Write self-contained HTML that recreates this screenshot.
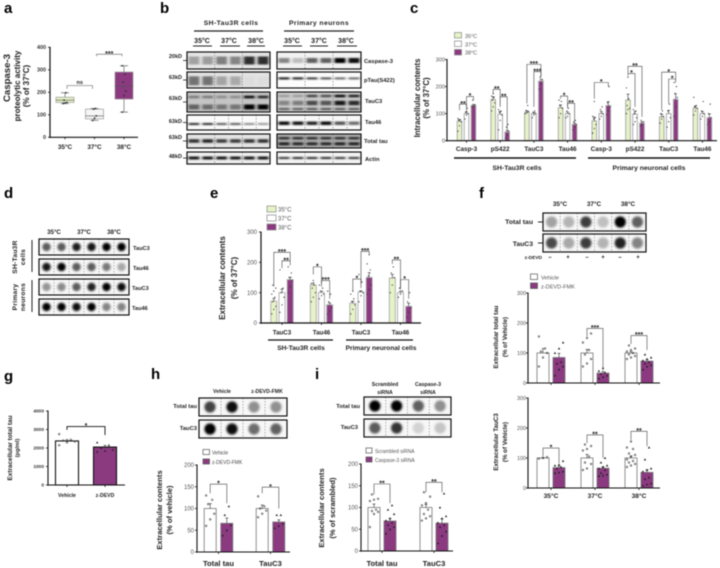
<!DOCTYPE html>
<html lang="en">
<head>
<meta charset="utf-8">
<title>Caspase-3 and tau multi-panel figure</title>
<style>
html,body{margin:0;padding:0;background:#fff;width:720px;height:568px;overflow:hidden}
svg{display:block;filter:blur(.4px)}
text{font-family:"Liberation Sans",sans-serif;fill:#222}
.panel{font-size:15px;font-weight:bold;fill:#000}
.b{font-weight:bold}
.m{text-anchor:middle}
.e{text-anchor:end}
</style>
</head>
<body>
<svg id="figure" xmlns="http://www.w3.org/2000/svg" width="720" height="568" viewBox="0 0 720 568">
<defs>
<filter id="bandBlur" x="-40%" y="-300%" width="180%" height="700%"><feGaussianBlur stdDeviation="1.3 0.8"/></filter>
<filter id="spotBlur" x="-50%" y="-50%" width="200%" height="200%"><feGaussianBlur stdDeviation="1.1"/></filter>
</defs>
<rect width="720" height="568" fill="#fff"/>

<!-- panel letters -->
<text class="panel" x="4" y="13">a</text>
<text class="panel" x="160" y="13">b</text>
<text class="panel" x="410" y="13">c</text>
<text class="panel" x="4" y="198">d</text>
<text class="panel" x="210" y="198">e</text>
<text class="panel" x="479" y="198">f</text>
<text class="panel" x="4" y="381">g</text>
<text class="panel" x="151" y="379">h</text>
<text class="panel" x="315" y="379">i</text>

<!-- panel a titles -->
<text class="b m" font-size="9.6" transform="translate(10,78) rotate(-90)">Caspase-3</text>
<text class="b m" font-size="8" transform="translate(20,86) rotate(-90)">proteolytic activity</text>
<text class="b m" font-size="8" transform="translate(29,86) rotate(-90)">(% of 37°C)</text>

<!-- panel b labels -->
<text class="b m" font-size="6.8" letter-spacing=".4" x="231" y="25">SH-Tau3R cells</text>
<text class="b m" font-size="6.8" letter-spacing=".4" x="319" y="25">Primary neurons</text>
<line x1="194" x2="263" y1="31" y2="31" stroke="#222" stroke-width="1.2"/>
<line x1="284" x2="354" y1="31" y2="31" stroke="#222" stroke-width="1.2"/>
<g font-size="7" font-weight="bold" text-anchor="middle">
<text x="202" y="43">35°C</text>
<text x="229" y="43">37°C</text>
<text x="256" y="43">38°C</text>
<text x="292" y="43">35°C</text>
<text x="319" y="43">37°C</text>
<text x="346" y="43">38°C</text>
</g>
<g stroke="#222" stroke-width="1">
<line x1="193" x2="212" y1="46" y2="46"/>
<line x1="220" x2="240" y1="46" y2="46"/>
<line x1="247" x2="265" y1="46" y2="46"/>
<line x1="283" x2="302" y1="46" y2="46"/>
<line x1="310" x2="328" y1="46" y2="46"/>
<line x1="337" x2="357" y1="46" y2="46"/>
</g>
<g font-size="5.5" font-weight="bold" text-anchor="end">
<text x="182" y="58">20kD</text>
<text x="182" y="79">63kD</text>
<text x="182" y="100">63kD</text>
<text x="182" y="123">63kD</text>
<text x="182" y="139">63kD</text>
<text x="182" y="158">48kD</text>
</g>
<g font-size="5.8" font-weight="bold">
<text x="364" y="63">Caspase-3</text>
<text x="364" y="82">pTau(S422)</text>
<text x="365" y="103">TauC3</text>
<text x="365" y="124">Tau46</text>
<text x="364" y="143">Total tau</text>
<text x="365" y="161">Actin</text>
</g>

<!-- panel c labels -->
<g>
<rect x="454.5" y="32.5" width="7" height="5.5" fill="#e6f3c6" stroke="#888" stroke-width=".7"/>
<rect x="454.5" y="41" width="7" height="5.5" fill="#fff" stroke="#888" stroke-width=".7"/>
<rect x="454.5" y="49.5" width="7" height="5.5" fill="#8b3a80" stroke="#888" stroke-width=".7"/>
<text x="465" y="38" font-size="5.4" style="fill:#555">35°C</text>
<text x="465" y="46.5" font-size="5.4" style="fill:#555">37°C</text>
<text x="465" y="54.5" font-size="5.4" style="fill:#555">38°C</text>
</g>
<text class="b m" font-size="7.8" transform="translate(420,98) rotate(-90)">Intracellular contents</text>
<text class="b m" font-size="7.8" transform="translate(429,98) rotate(-90)">(% of 37°C)</text>
<line x1="454" x2="576" y1="158" y2="158" stroke="#111" stroke-width="1.6"/>
<line x1="588" x2="710" y1="158" y2="158" stroke="#111" stroke-width="1.6"/>
<text class="b m" font-size="6.8" x="517" y="170">SH-Tau3R cells</text>
<text class="b m" font-size="6.8" x="649" y="170">Primary neuronal cells</text>

<!-- panel d labels -->
<g font-size="6.2" font-weight="bold" text-anchor="middle">
<text x="54" y="234">35°C</text>
<text x="84" y="234">37°C</text>
<text x="114" y="234">38°C</text>
</g>
<g font-size="5.6" font-weight="bold">
<text x="133" y="250">TauC3</text>
<text x="133" y="270">Tau46</text>
<text x="132" y="290">TauC3</text>
<text x="132" y="310">Tau46</text>
</g>
<text class="b m" font-size="6.6" letter-spacing=".3" transform="translate(17,257) rotate(-90)">SH-Tau3R</text>
<text class="b m" font-size="6.6" letter-spacing=".3" transform="translate(25,257) rotate(-90)">cells</text>
<text class="b m" font-size="6.6" letter-spacing=".3" transform="translate(17,297) rotate(-90)">Primary</text>
<text class="b m" font-size="6.6" letter-spacing=".3" transform="translate(25,297) rotate(-90)">neurons</text>
<line x1="32" x2="32" y1="240" y2="272" stroke="#222" stroke-width="1"/>
<line x1="32" x2="32" y1="280" y2="312" stroke="#222" stroke-width="1"/>

<!-- panel e labels -->
<g>
<rect x="267" y="206" width="9" height="6" fill="#e6f3c6" stroke="#888" stroke-width=".7"/>
<rect x="267" y="215" width="9" height="6" fill="#fff" stroke="#888" stroke-width=".7"/>
<rect x="267" y="224" width="9" height="6" fill="#8b3a80" stroke="#888" stroke-width=".7"/>
<text x="278" y="211.5" font-size="6" style="fill:#555">35°C</text>
<text x="278" y="220.5" font-size="6" style="fill:#555">37°C</text>
<text x="278" y="229.5" font-size="6" style="fill:#555">38°C</text>
</g>
<text class="b m" font-size="8" transform="translate(225,278) rotate(-90)">Extracellular contents</text>
<text class="b m" font-size="8" transform="translate(237,278) rotate(-90)">(% of 37°C)</text>
<line x1="268" x2="333" y1="340" y2="340" stroke="#111" stroke-width="1.2"/>
<line x1="346" x2="413" y1="340" y2="340" stroke="#111" stroke-width="1.2"/>
<text class="b m" font-size="6.6" x="301" y="350">SH-Tau3R cells</text>
<text class="b m" font-size="6.6" x="381" y="350">Primary neuronal cells</text>

<!-- panel f labels -->
<g font-size="6.4" font-weight="bold" text-anchor="middle">
<text x="560" y="206">35°C</text>
<text x="594" y="206">37°C</text>
<text x="628" y="206">38°C</text>
</g>
<text class="b e" font-size="6.8" x="533" y="224">Total tau</text>
<text class="b e" font-size="6.8" x="533" y="246">TauC3</text>
<line x1="538" x2="543" y1="222" y2="222" stroke="#222"/>
<line x1="538" x2="543" y1="243" y2="243" stroke="#222"/>
<text class="b e" font-size="4.8" x="542" y="259">z-DEVD</text>
<g font-size="6" font-weight="bold" text-anchor="middle">
<text x="550" y="259">–</text>
<text x="568" y="259">+</text>
<text x="587" y="259">–</text>
<text x="603" y="259">+</text>
<text x="620" y="259">–</text>
<text x="638" y="259">+</text>
</g>
<g>
<rect x="530.5" y="274" width="7" height="5.5" fill="#fff" stroke="#555" stroke-width=".7"/>
<rect x="530.5" y="283" width="7" height="5.5" fill="#8b3a80" stroke="#555" stroke-width=".7"/>
<text x="541" y="279.5" font-size="5.6" style="fill:#555">Vehicle</text>
<text x="541" y="288.5" font-size="5.6" style="fill:#555">z-DEVD-FMK</text>
</g>
<text class="b m" font-size="6.2" transform="translate(498,337) rotate(-90)">Extracellular total tau</text>
<text class="b m" font-size="6.2" transform="translate(507,337) rotate(-90)">(% of Vehicle)</text>
<text class="b m" font-size="6.2" transform="translate(498,442) rotate(-90)">Extracellular TauC3</text>
<text class="b m" font-size="6.2" transform="translate(507,442) rotate(-90)">(% of Vehicle)</text>

<!-- panel g labels -->
<text class="b m" font-size="6.4" transform="translate(12,448) rotate(-90)">Extracellular total tau</text>
<text class="b m" font-size="5.6" transform="translate(19,448) rotate(-90)">(pg/ml)</text>
<text class="b m" font-size="5.2" x="67" y="497">Vehicle</text>
<text class="b m" font-size="5.2" x="105" y="497">z-DEVD</text>

<!-- panel h labels -->
<text class="b m" font-size="5.2" x="222" y="393">Vehicle</text>
<text class="b m" font-size="5.2" x="267" y="393">z-DEVD-FMK</text>
<text class="b e" font-size="5.8" x="197" y="408">Total tau</text>
<text class="b e" font-size="5.8" x="197" y="430">TauC3</text>
<g>
<rect x="203" y="449.5" width="6.5" height="5" fill="#fff" stroke="#555" stroke-width=".7"/>
<rect x="203" y="459" width="6.5" height="5" fill="#8b3a80" stroke="#555" stroke-width=".7"/>
<text x="212" y="454.5" font-size="5" style="fill:#444">Vehicle</text>
<text x="212" y="464" font-size="5" style="fill:#444">z-DEVD-FMK</text>
</g>
<text class="b m" font-size="7.6" transform="translate(162,510) rotate(-90)">Extracellular contents</text>
<text class="b m" font-size="7.6" transform="translate(172,510) rotate(-90)">(% of vehicle)</text>

<!-- panel i labels -->
<g font-size="5.2" font-weight="bold" text-anchor="middle">
<text x="385" y="386">Scrambled</text>
<text x="385" y="394">siRNA</text>
<text x="428" y="386">Caspase-3</text>
<text x="428" y="394">siRNA</text>
</g>
<text class="b e" font-size="5.8" x="360" y="408">Total tau</text>
<text class="b e" font-size="5.8" x="358" y="429">TauC3</text>
<g>
<rect x="366" y="448" width="6" height="5" fill="#fff" stroke="#555" stroke-width=".7"/>
<rect x="366" y="457" width="6" height="5" fill="#8b3a80" stroke="#555" stroke-width=".7"/>
<text x="375" y="453" font-size="5" style="fill:#555">Scrambled siRNA</text>
<text x="375" y="462" font-size="5" style="fill:#555">Caspase-3 siRNA</text>
</g>
<text class="b m" font-size="7.6" transform="translate(324,508) rotate(-90)">Extracellular contents</text>
<text class="b m" font-size="7.6" transform="translate(335,508) rotate(-90)">(% of scrambled)</text>
</svg>

<script>
/* ---------- panel a data ---------- */
const aCategories = ['35°C', '37°C', '38°C'];
const aTicks = [0, 100, 200, 300, 400];
const aMin = [150, 75, 112];
const aQ1 = [155, 82, 170];
const aMedian = [165, 95, 227];
const aQ3 = [178, 125, 290];
const aMax = [198, 128, 318];
const aPoints = [[150, 152, 155, 165, 198], [75, 85, 95, 125, 128], [112, 185, 205, 245, 280, 318]];
const aBrackets = [[0, 1, 215, 230, 215, 'ns'], [1, 2, 360, 369, 360, '***']];

/* ---------- panel c data ---------- */
const cCategories = ['Casp-3', 'pS422', 'TauC3', 'Tau46', 'Casp-3', 'pS422', 'TauC3', 'Tau46'];
const cTicks = [0, 100, 200, 300];
const c35 = [72, 152, 105, 122, 73, 150, 88, 120];
const c37 = [100, 98, 100, 100, 100, 98, 100, 100];
const c38 = [130, 32, 220, 60, 130, 65, 153, 85];
const c35Err = [6, 10, 5, 10, 14, 22, 10, 8];
const c37Err = [7, 10, 5, 6, 8, 10, 12, 8];
const c38Err = [4, 6, 8, 5, 14, 5, 20, 14];
const c35Points = [[35, 55, 70, 75, 78, 82], [110, 125, 140, 150, 160, 165, 175], [100, 103, 108, 112, 130], [85, 100, 120, 130, 145, 150], [28, 45, 60, 80, 85, 90, 145], [100, 115, 120, 130, 155, 195, 235], [65, 80, 90, 100, 110], [95, 110, 120, 125, 130, 160]];
const c37Points = [[80, 95, 100, 105, 120], [40, 75, 95, 105, 110, 115], [85, 95, 100, 105, 110], [85, 90, 100, 110, 120], [80, 90, 100, 115, 125], [60, 70, 85, 100, 110, 115], [50, 70, 85, 110, 135], [80, 90, 100, 110, 145]];
const c38Points = [[125, 128, 132, 150], [10, 20, 35, 50, 60], [190, 210, 225, 235], [40, 50, 60, 70, 75], [95, 110, 125, 140, 200], [55, 60, 70, 75], [90, 125, 160, 175, 200, 215], [60, 70, 85, 100, 135]];
const cBrackets = [
  [0, 0, 0, 1, 113, 135, 105, '**'], [0, 1, 0, 2, 125, 163, 150, '*'],
  [1, 0, 1, 1, 170, 190, 130, '**'], [1, 1, 1, 2, 125, 162, 40, '**'],
  [2, 0, 2, 2, 138, 282, 236, '***'], [2, 1, 2, 2, 125, 255, 236, '***'],
  [3, 0, 3, 1, 155, 165, 125, '*'], [3, 1, 3, 2, 120, 138, 70, '**'],
  [4, 0, 4, 2, 155, 215, 200, '*'],
  [5, 0, 5, 1, 240, 248, 125, '*'], [5, 0, 5, 2, 250, 275, 88, '**'],
  [6, 0, 6, 2, 113, 253, 220, '*'], [6, 1, 6, 2, 137, 228, 215, '*']
];

/* ---------- panel e data ---------- */
const eCategories = ['TauC3', 'Tau46', 'TauC3', 'Tau46'];
const eTicks = [0, 100, 200, 300];
const e35 = [72, 125, 65, 148];
const e37 = [100, 100, 102, 100];
const e38 = [143, 60, 150, 55];
const e35Err = [9, 7, 7, 12];
const e37Err = [12, 5, 4, 5];
const e38Err = [8, 6, 16, 10];
const e35Points = [[30, 45, 55, 70, 85, 95, 105, 115, 125], [70, 85, 100, 115, 125, 130, 140], [30, 45, 60, 70, 80, 95, 105], [100, 125, 150, 165, 185]];
const e37Points = [[35, 60, 85, 100, 115, 175], [80, 90, 95, 105, 115, 125], [70, 90, 100, 105, 135, 160], [85, 95, 105, 115]];
const e38Points = [[100, 120, 140, 150, 165, 185], [30, 40, 50, 70, 95, 105], [95, 110, 125, 155, 175, 195, 225], [20, 35, 50, 70, 100]];
const eBrackets = [
  [0, 0, 0, 2, 120, 233, 205, '***'], [0, 1, 0, 2, 181, 205, 190, '**'],
  [1, 0, 1, 1, 160, 185, 130, '*'], [1, 1, 1, 2, 120, 140, 80, '***'],
  [2, 0, 2, 1, 105, 145, 130, '*'], [2, 1, 2, 2, 115, 236, 225, '***'],
  [3, 0, 3, 1, 195, 208, 110, '**'], [3, 1, 3, 2, 115, 143, 80, '*']
];

/* ---------- panel f data ---------- */
const fCategories = ['35°C', '37°C', '38°C'];
const fTicks = [0, 100, 200, 300];
const fTotalVehicle = [100, 100, 100];
const fTotalZ = [85, 33, 73];
const fTotalVehicleErr = [15, 12, 5];
const fTotalZErr = [14, 5, 5];
const fTotalVehiclePoints = [[55, 85, 100, 105, 115, 155], [55, 65, 80, 95, 110, 135, 150, 165], [80, 85, 90, 95, 100, 105, 110, 115, 125]];
const fTotalZPoints = [[25, 45, 55, 65, 70, 100, 115, 135], [15, 20, 25, 30, 35, 40, 50], [45, 55, 60, 65, 70, 75, 80, 85, 95]];
const fTotalBrackets = [[1, 0, 1, 1, 155, 182, 43, '***'], [2, 0, 2, 1, 130, 158, 110, '***']];
const fC3Vehicle = [100, 100, 100];
const fC3Z = [68, 66, 52];
const fC3VehicleErr = [2, 12, 7];
const fC3ZErr = [5, 5, 9];
const fC3VehiclePoints = [[98, 100, 103], [60, 65, 80, 85, 105, 125, 130, 140, 145], [70, 75, 80, 85, 90, 95, 105, 110, 115, 130, 135, 155]];
const fC3ZPoints = [[50, 52, 55, 65, 70, 75, 78, 90], [40, 42, 45, 50, 60, 65, 70, 75, 85, 100], [8, 12, 15, 30, 35, 55, 60, 65, 95, 135]];
const fC3Brackets = [[0, 0, 0, 1, 105, 133, 83, '*'], [1, 0, 1, 1, 150, 177, 100, '**'], [2, 0, 2, 1, 160, 189, 139, '**']];

/* ---------- panel g data ---------- */
const gTicks = [0, 1000, 2000, 3000, 4000];
const gVehicle = [2380];
const gZ = [2050];
const gVehicleErr = [80];
const gZErr = [90];
const gVehiclePoints = [[2150, 2300, 2350, 2400, 2450, 2750]];
const gZPoints = [[1800, 1850, 1900, 2000, 2150, 2300]];
const gBrackets = [[0, 0, 0, 1, 2977, 3157, 2700, '*']];

/* ---------- panel h data ---------- */
const hCategories = ['Total tau', 'TauC3'];
const hTicks = [0, 50, 100, 150, 200];
const hVehicle = [100, 100];
const hZ = [66, 69];
const hVehicleErr = [11, 8];
const hZErr = [12, 5];
const hVehiclePoints = [[60, 75, 88, 110, 120, 130], [80, 88, 95, 100, 105, 128]];
const hZPoints = [[38, 50, 62, 85, 105], [55, 60, 65, 85, 85]];
const hBrackets = [[0, 0, 0, 1, 135, 156, 112, '*'], [1, 0, 1, 1, 135, 149, 100, '*']];

/* ---------- panel i data ---------- */
const iCategories = ['Total tau', 'TauC3'];
const iTicks = [0, 50, 100, 150, 200];
const iScrambled = [100, 100];
const iCaspase = [69, 64];
const iScrambledErr = [8, 7];
const iCaspaseErr = [6, 10];
const iScrambledPoints = [[55, 85, 90, 92, 95, 115, 118, 120, 130], [70, 75, 80, 85, 95, 105, 110, 125, 135]];
const iCaspasePoints = [[40, 50, 55, 60, 65, 70, 75, 85, 95, 105], [18, 35, 45, 55, 60, 65, 75, 80, 100, 132]];
const iBrackets = [[0, 0, 0, 1, 130, 154, 110, '**'], [1, 0, 1, 1, 135, 158, 135, '**']];

/* ---------- blot signal data (0 = blank, 1 = saturated) ---------- */
const bLeftBackgrounds = ['#e6e6e6', '#e4e4e4', '#c4c4c4', '#fbfbfb', '#e4e4e4', '#f0f0f0'];
const bRightBackgrounds = ['#f2f2f2', '#fcfcfc', '#cdcdcd', '#f9f9f9', '#b0b0b0', '#f4f4f4'];
const bLeftBands = [
  [[0.5, 8, [.3, .32, .45, .42, .8, .8]]],
  [[0.55, 9, [.5, .5, .28, .26, .03, .03]]],
  [[0.25, 2.5, [.4, .4, .3, .3, 1, .85]], [0.75, 5, [.5, .45, .4, .4, 1, 1]]],
  [[0.6, 2, [.85, .85, .65, .65, .45, .4]]],
  [[0.5, 3.5, [.8, .85, .75, .75, .8, .8]]],
  [[0.5, 3, [.9, .9, .9, .9, .9, .9]]]
];
const bRightBands = [
  [[0.5, 5, [.45, .22, .6, .6, 1, .95]]],
  [[0.4, 2, [.95, .9, .8, .7, .6, .6]]],
  [[0.2, 2.5, [.25, .25, .7, .65, 1, .9]], [0.55, 4.5, [.35, .4, .65, .6, .9, .8]], [0.85, 2, [.6, .6, .65, .65, .65, .65]]],
  [[0.55, 3.5, [.95, .9, .85, .95, .65, .55]]],
  [[0.3, 2.5, [.75, .75, .75, .75, .75, .75]], [0.7, 3, [.85, .8, .8, .8, .85, .85]]],
  [[0.5, 2, [.8, .85, .85, .85, .8, .8]]]
];
const dSignals = [[.62, .62, .88, .92, 1, 1], [.92, 1, .62, .62, .5, .3], [.38, .42, .62, .85, 1, .95], [1, 1, .95, .98, .45, .45]];
const fSignals = [[.32, .25, .75, .2, 1, .6], [.7, .3, .75, .25, .85, .45]];
const hSignals = [[.72, .95, .4, .4], [1, .95, .55, .6]];
const iSignals = [[1, 1, .6, .4], [.62, .78, .12, .18]];

/* ---------- drawing helpers ---------- */
const figure = document.getElementById('figure');
const NS = 'http://www.w3.org/2000/svg';
const PURPLE = '#8b3a80';
const GREEN = '#e6f3c6';

function make(tag, attrs, parent) {
  const node = document.createElementNS(NS, tag);
  for (const k in attrs) node.setAttribute(k, attrs[k]);
  (parent || figure).appendChild(node);
  return node;
}

function makeText(str, attrs, parent) {
  const node = make('text', attrs, parent);
  node.textContent = str;
  return node;
}

function yScale(c, v) {
  return c.base - (v / c.vMax) * (c.base - c.top);
}

function xScale(c, g, b) {
  return c.start + c.step * g + (b - (c.series.length - 1) / 2) * c.barStep;
}

function drawAxes(c) {
  const g = make('g', {});
  
  
  const yLine = make('line', {x1: c.x0, x2: c.x0, y1: c.top - 0.5, y2: c.base + 0.7, stroke: '#111', 'stroke-width': c.axisWidth}, g);
  
  
  const xLine = make('line', {x1: c.x0 - 0.7, x2: c.x1, y1: c.base, y2: c.base, stroke: '#111', 'stroke-width': c.axisWidth}, g);
  
  
  c.ticks.forEach(function (t) {
    const y = yScale(c, t);
    const tick = make('line', {x1: c.x0 - 2, x2: c.x0, y1: y, y2: y, stroke: '#111', 'stroke-width': 0.8}, g);
    
    
    const label = makeText(String(t), {x: c.tickRight, y: y + c.tickSize * 0.36, 'font-size': c.tickSize, 'text-anchor': 'end', 'font-weight': c.tickWeight || 'normal', style: 'fill:' + c.tickColor}, g);
    
    
  });
}

function drawXLabels(c, centers) {
  centers.forEach(function (x, i) {
    const tick = make('line', {x1: x, x2: x, y1: c.base, y2: c.base + 2, stroke: '#111', 'stroke-width': 0.8});
    
    
    if (c.cats && c.cats[i]) {
      const label = makeText(c.cats[i], {x: x, y: c.labelY, 'font-size': c.labelSize, 'font-weight': 'bold', 'text-anchor': 'middle'});
      
      
    }
  });
}

function drawPoint(c, x, y, kind) {
  if (kind === 'tri') {
    const s = c.pointSize + 0.4;
    const tri = make('polygon', {points: x + ',' + (y - s) + ' ' + (x - s) + ',' + (y + s * 0.8) + ' ' + (x + s) + ',' + (y + s * 0.8), fill: '#222'});
    
    
  } else if (kind === 'open') {
    const dot = make('circle', {cx: x, cy: y, r: c.pointSize, fill: 'none', stroke: '#444', 'stroke-width': 0.6});
    
    
  } else {
    const dot = make('circle', {cx: x, cy: y, r: c.pointSize, fill: '#333'});
    
    
  }
}

function drawBracket(c, x1, x2, vLeft, vTop, vRight, label) {
  const yT = yScale(c, vTop);
  const path = make('path', {d: 'M' + x1 + ' ' + yScale(c, vLeft) + 'V' + yT + 'H' + x2 + 'V' + yScale(c, vRight), fill: 'none', stroke: c.bracketColor || '#444', 'stroke-width': c.bracketWidth || 0.6});
  
  
  const star = makeText(label, {x: (x1 + x2) / 2, y: yT + (label === 'ns' ? -1.5 : 1.6), 'font-size': label === 'ns' ? 5.5 : 7, 'font-weight': 'bold', 'text-anchor': 'middle'});
  
  
}

function drawBarChart(c) {
  c.series.forEach(function (s, si) {
    s.values.forEach(function (v, g) {
      const x = xScale(c, g, si);
      const y = yScale(c, v);
      const bar = make('rect', {x: x - c.barW / 2, y: y, width: c.barW, height: c.base - y, fill: s.fill, stroke: s.stroke, 'stroke-width': c.barStroke});
      
      
      const yE = yScale(c, v + s.err[g]);
      const err = make('path', {d: 'M' + x + ' ' + y + 'V' + yE + 'M' + (x - 1.5) + ' ' + yE + 'H' + (x + 1.5), stroke: '#333', 'stroke-width': 0.6, fill: 'none'});
      
      
      s.points[g].forEach(function (p, i) {
        const jitter = ((i * 7) % 5 - 2) * c.barW * 0.17;
        drawPoint(c, x + jitter, yScale(c, p), s.kind);
      });
    });
  });
  c.brackets.forEach(function (b) {
    drawBracket(c, xScale(c, b[0], b[1]), xScale(c, b[2], b[3]), b[4], b[5], b[6], b[7]);
  });
  drawAxes(c);
  const centers = c.barTicks
    ? c.series.map(function (s, si) { return xScale(c, 0, si); })
    : c.series[0].values.map(function (v, g) { return c.start + c.step * g; });
  drawXLabels(c, centers);
}

function drawBoxChart(c) {
  const fills = [GREEN, '#f6f6f6', PURPLE];
  const centers = aCategories.map(function (n, i) { return c.start + c.step * i; });
  aMedian.forEach(function (m, i) {
    const x = centers[i];
    const whisker = make('path', {d: 'M' + x + ' ' + yScale(c, aMin[i]) + 'V' + yScale(c, aMax[i]) + 'M' + (x - 4) + ' ' + yScale(c, aMin[i]) + 'H' + (x + 4) + 'M' + (x - 4) + ' ' + yScale(c, aMax[i]) + 'H' + (x + 4), stroke: '#666', 'stroke-width': 0.7, fill: 'none'});
    
    
    const box = make('rect', {x: x - c.barW / 2, y: yScale(c, aQ3[i]), width: c.barW, height: yScale(c, aQ1[i]) - yScale(c, aQ3[i]), fill: fills[i], stroke: '#999', 'stroke-width': 0.7});
    
    
    const median = make('line', {x1: x - c.barW / 2, x2: x + c.barW / 2, y1: yScale(c, m), y2: yScale(c, m), stroke: '#555', 'stroke-width': 0.7});
    
    
    aPoints[i].forEach(function (p, k) {
      drawPoint(c, x + ((k * 7) % 5 - 2) * 0.9, yScale(c, p), 'dot');
    });
  });
  aBrackets.forEach(function (b) {
    drawBracket(c, centers[b[0]] + 2, centers[b[1]] - 2, b[2], b[3], b[4], b[5]);
  });
  drawAxes(c);
  drawXLabels(c, centers);
}

function drawGelPanel(name, x0, x1, tops, bottoms, backgrounds, bands) {
  const laneW = (x1 - x0) / 6;
  tops.forEach(function (top, r) {
    const h = bottoms[r] - top;
    const bg = make('rect', {x: x0, y: top, width: x1 - x0, height: h, fill: backgrounds[r]});
    
    
    bands[r].forEach(function (band) {
      band[2].forEach(function (v, lane) {
        const shade = Math.round((1 - v) * parseInt(backgrounds[r].slice(1, 3), 16));
        const rect = make('rect', {x: x0 + laneW * lane + 1.5, y: top + h * band[0] - band[1] / 2, width: laneW - 3, height: band[1], fill: 'rgb(' + shade + ',' + shade + ',' + shade + ')', filter: 'url(#bandBlur)'});
        
        
      });
    });
    const seps = r === 3 ? [2, 3, 4, 5] : [2, 4];
    seps.forEach(function (k) {
      const sep = make('line', {x1: x0 + laneW * k, x2: x0 + laneW * k, y1: top, y2: top + h, stroke: '#555', 'stroke-width': 0.5, 'stroke-dasharray': '1.5 1.5'});
      
      
    });
    const frame = make('rect', {x: x0, y: top, width: x1 - x0, height: h, fill: 'none', stroke: '#111', 'stroke-width': 1.2});
    
    
  });
}

function drawDotBlot(name, x0, x1, tops, height, signals, radius) {
  signals.forEach(function (row, r) {
    const lanes = row.length;
    const laneW = (x1 - x0) / lanes;
    const bg = make('rect', {x: x0, y: tops[r], width: x1 - x0, height: height, fill: '#f7f7f7'});
    
    
    row.forEach(function (v, i) {
      const shade = Math.round(240 * (1 - v));
      const spot = make('circle', {cx: x0 + laneW * (i + 0.5), cy: tops[r] + height / 2, r: radius, fill: 'rgb(' + shade + ',' + shade + ',' + shade + ')', filter: 'url(#spotBlur)'});
      
      
      if (i > 0) {
        const sep = make('line', {x1: x0 + laneW * i, x2: x0 + laneW * i, y1: tops[r], y2: tops[r] + height, stroke: '#666', 'stroke-width': 0.5, 'stroke-dasharray': '1.5 1.5'});
        
        
      }
    });
    const frame = make('rect', {x: x0, y: tops[r], width: x1 - x0, height: height, fill: 'none', stroke: '#111', 'stroke-width': 1.2});
    
    
  });
}

/* ---------- blots ---------- */
const bTops = [52, 72, 92, 115, 134, 152];
const bBottoms = [69, 88, 112, 130, 148, 164];
drawGelPanel('b-sh-tau3r', 187, 270, bTops, bBottoms, bLeftBackgrounds, bLeftBands);
drawGelPanel('b-primary', 277, 361, bTops, bBottoms, bRightBackgrounds, bRightBands);
bTops.forEach(function (t, r) {
  const mark = make('line', {x1: 183, x2: 187, y1: (t + bBottoms[r]) / 2, y2: (t + bBottoms[r]) / 2, stroke: '#222', 'stroke-width': 0.8});
  
  
});
drawDotBlot('d', 39, 129, [239, 259, 279, 299], 16, dSignals, 4.2);
drawDotBlot('f', 543, 646, [213, 234], 18, fSignals, 5.6);
drawDotBlot('h', 199, 287, [398, 420], 18, hSignals, 5.6);
drawDotBlot('i', 364, 451, [397, 419], 18, iSignals, 5.6);

/* ---------- charts ---------- */
drawBoxChart({name: 'a', x0: 50, x1: 138, top: 47.3, base: 137.3, vMax: 400, ticks: aTicks, cats: aCategories, start: 65, step: 29.5, barW: 18, pointSize: 0.9, axisWidth: 1.2, tickRight: 46, tickSize: 5.4, tickWeight: 'bold', tickColor: '#333', labelY: 149, labelSize: 6.4, bracketColor: '#777', bracketWidth: 0.7});

drawBarChart({name: 'c', x0: 447, x1: 717, top: 59.5, base: 140.7, vMax: 300, ticks: cTicks, cats: cCategories, start: 466.5, step: 33.7, barStep: 7, barW: 4.6, barStroke: 1, pointSize: 0.6, axisWidth: 1.1, tickRight: 445, tickSize: 5.6, tickColor: '#555', labelY: 151, labelSize: 6.4, brackets: cBrackets,
  series: [
    {values: c35, err: c35Err, points: c35Points, fill: GREEN, stroke: '#aaa', kind: 'dot'},
    {values: c37, err: c37Err, points: c37Points, fill: '#fff', stroke: '#aaa', kind: 'dot'},
    {values: c38, err: c38Err, points: c38Points, fill: PURPLE, stroke: '#aaa', kind: 'dot'}
  ]});

drawBarChart({name: 'e', x0: 261, x1: 421, top: 232, base: 323, vMax: 300, ticks: eTicks, cats: eCategories, start: 282, step: 39.5, barStep: 8.2, barW: 6, barStroke: 0.9, pointSize: 0.6, axisWidth: 1.2, tickRight: 257, tickSize: 6, tickColor: '#555', labelY: 334.5, labelSize: 6.2, brackets: eBrackets,
  series: [
    {values: e35, err: e35Err, points: e35Points, fill: GREEN, stroke: '#aaa', kind: 'dot'},
    {values: e37, err: e37Err, points: e37Points, fill: '#fff', stroke: '#aaa', kind: 'dot'},
    {values: e38, err: e38Err, points: e38Points, fill: PURPLE, stroke: '#aaa', kind: 'dot'}
  ]});

drawBarChart({name: 'f-total-tau', x0: 528, x1: 660, top: 293, base: 383, vMax: 300, ticks: fTicks, cats: null, start: 551, step: 44, barStep: 16, barW: 12, barStroke: 0.8, pointSize: 0.8, axisWidth: 1.1, tickRight: 526, tickSize: 5.4, tickColor: '#555', labelY: 0, labelSize: 7, brackets: fTotalBrackets,
  series: [
    {values: fTotalVehicle, err: fTotalVehicleErr, points: fTotalVehiclePoints, fill: '#fff', stroke: '#777', kind: 'open'},
    {values: fTotalZ, err: fTotalZErr, points: fTotalZPoints, fill: PURPLE, stroke: '#777', kind: 'tri'}
  ]});

drawBarChart({name: 'f-tauc3', x0: 528, x1: 660, top: 398, base: 488, vMax: 300, ticks: fTicks, cats: fCategories, start: 551, step: 44, barStep: 16, barW: 12, barStroke: 0.8, pointSize: 0.8, axisWidth: 1.1, tickRight: 526, tickSize: 5.4, tickColor: '#555', labelY: 498, labelSize: 6.6, brackets: fC3Brackets,
  series: [
    {values: fC3Vehicle, err: fC3VehicleErr, points: fC3VehiclePoints, fill: '#fff', stroke: '#777', kind: 'open'},
    {values: fC3Z, err: fC3ZErr, points: fC3ZPoints, fill: PURPLE, stroke: '#777', kind: 'tri'}
  ]});

drawBarChart({name: 'g', x0: 48, x1: 125, top: 411, base: 485, vMax: 4000, ticks: gTicks, cats: null, start: 86, step: 0, barStep: 38, barW: 23, barStroke: 1.1, pointSize: 0.8, axisWidth: 1.1, tickRight: 44, tickSize: 4.8, tickWeight: 'bold', tickColor: '#333', labelY: 0, labelSize: 6, barTicks: true, brackets: gBrackets, bracketColor: '#111', bracketWidth: 0.9,
  series: [
    {values: gVehicle, err: gVehicleErr, points: gVehiclePoints, fill: '#fff', stroke: '#111', kind: 'open'},
    {values: gZ, err: gZErr, points: gZPoints, fill: PURPLE, stroke: '#111', kind: 'tri'}
  ]});

drawBarChart({name: 'h', x0: 197, x1: 290, top: 465, base: 552, vMax: 200, ticks: hTicks, cats: hCategories, start: 218.5, step: 52, barStep: 16.6, barW: 12, barStroke: 0.8, pointSize: 0.8, axisWidth: 1.1, tickRight: 194, tickSize: 6, tickColor: '#555', labelY: 566, labelSize: 7.6, brackets: hBrackets,
  series: [
    {values: hVehicle, err: hVehicleErr, points: hVehiclePoints, fill: '#fff', stroke: '#777', kind: 'open'},
    {values: hZ, err: hZErr, points: hZPoints, fill: PURPLE, stroke: '#777', kind: 'tri'}
  ]});

drawBarChart({name: 'i', x0: 361, x1: 453, top: 464, base: 551, vMax: 200, ticks: iTicks, cats: iCategories, start: 382, step: 52, barStep: 16, barW: 12, barStroke: 0.8, pointSize: 0.8, axisWidth: 1.1, tickRight: 358, tickSize: 6, tickColor: '#555', labelY: 566, labelSize: 7.6, brackets: iBrackets,
  series: [
    {values: iScrambled, err: iScrambledErr, points: iScrambledPoints, fill: '#fff', stroke: '#777', kind: 'open'},
    {values: iCaspase, err: iCaspaseErr, points: iCaspasePoints, fill: PURPLE, stroke: '#777', kind: 'tri'}
  ]});
</script>
</body>
</html>
